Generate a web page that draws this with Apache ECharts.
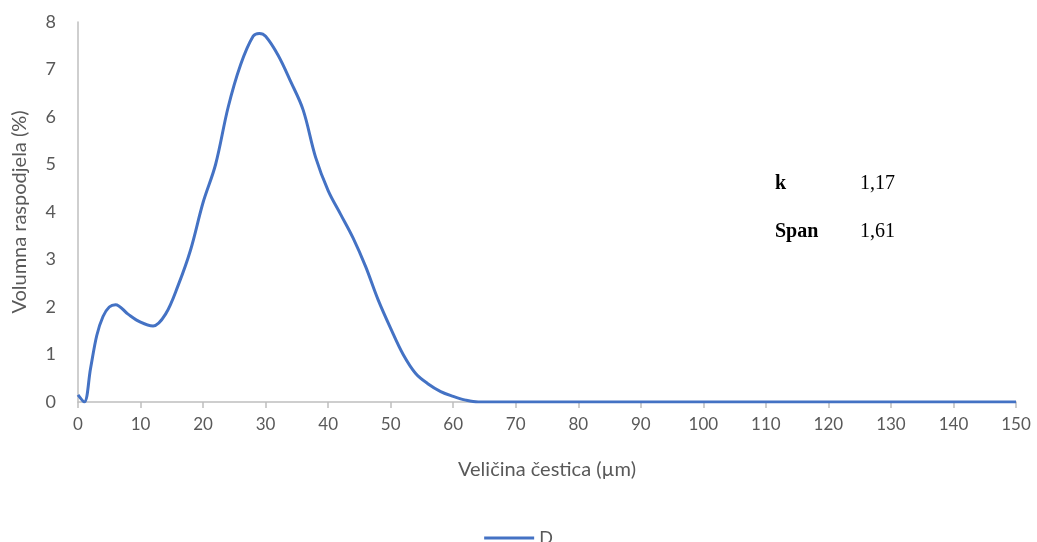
<!DOCTYPE html>
<html>
<head>
<meta charset="utf-8">
<script src="https://cdn.jsdelivr.net/npm/echarts@6/dist/echarts.min.js"></script>
<style>
  html, body { margin: 0; padding: 0; background: #fff; }
  #chart { width: 1037px; height: 542px; }
</style>
</head>
<body>
<div id="chart"></div>
<script>
// particle size (µm) and volume distribution (%)
var sizes = [0, 1, 2, 3, 4, 5, 6, 8, 10, 12, 14, 16, 18, 20, 22, 24, 26, 28, 29, 30, 32, 34, 36, 38, 40, 42, 44, 46, 48, 50, 52, 54, 56, 58, 60, 62, 64, 70, 80, 90, 100, 110, 120, 130, 140, 150];
var volumeD = [0.15, 0, 0.7, 1.4, 1.8, 2.0, 2.05, 1.85, 1.68, 1.6, 1.85, 2.45, 3.2, 4.2, 5.0, 6.2, 7.1, 7.7, 7.76, 7.7, 7.3, 6.75, 6.15, 5.15, 4.45, 3.95, 3.45, 2.85, 2.15, 1.55, 1.0, 0.6, 0.38, 0.22, 0.12, 0.04, 0, 0, 0, 0, 0, 0, 0, 0, 0, 0];
var statNames = ['k', 'Span'];
var statValues = ['1,17', '1,61'];

var myChart = echarts.init(document.getElementById('chart'));

var points = sizes.map(function (x, i) { return [x, volumeD[i]]; });

var font = 'Lato, "Open Sans", sans-serif';

var graphics = [];
statNames.forEach(function (name, i) {
    graphics.push({
        type: 'text', left: 775, top: 174 + i * 48,
        style: { text: name, font: 'bold 20px "Liberation Serif", serif', fill: '#000' }
    });
    graphics.push({
        type: 'text', left: 860, top: 174 + i * 48,
        style: { text: statValues[i], font: '20px "Liberation Serif", serif', fill: '#000' }
    });
});

var option = {
    animation: false,
    grid: { left: 78, right: 21, top: 22, bottom: 140, outerBoundsMode: 'none' },
    legend: {
        bottom: -10,
        left: 'center',
        itemWidth: 50,
        itemHeight: 3,
        textStyle: { fontFamily: font, fontSize: 18, color: '#595959' },
        data: [{ name: 'D', icon: 'rect' }]
    },
    xAxis: {
        type: 'value',
        min: 0,
        max: 150,
        interval: 10,
        name: 'Veličina čestica (µm)',
        nameLocation: 'middle',
        nameGap: 58,
        nameTextStyle: { fontFamily: font, fontSize: 20, color: '#595959' },
        axisLine: { show: true, lineStyle: { color: '#bfbfbf', width: 1.5 } },
        axisTick: { show: true, length: 6, lineStyle: { color: '#bfbfbf', width: 1.5 } },
        axisLabel: { fontFamily: font, fontSize: 17, color: '#595959', margin: 14 },
        splitLine: { show: false }
    },
    yAxis: {
        type: 'value',
        min: 0,
        max: 8,
        interval: 1,
        name: 'Volumna raspodjela (%)',
        nameLocation: 'middle',
        nameGap: 48,
        nameTextStyle: { fontFamily: font, fontSize: 20, color: '#595959' },
        axisLine: { show: true, lineStyle: { color: '#bfbfbf', width: 1.5 } },
        axisTick: { show: false },
        axisLabel: { fontFamily: font, fontSize: 18, color: '#595959', margin: 22 },
        splitLine: { show: false }
    },
    graphic: graphics,
    series: [
        {
            name: 'D',
            type: 'line',
            smooth: 0.35,
            showSymbol: false,
            itemStyle: { color: '#4472c4' },
            lineStyle: { color: '#4472c4', width: 3 },
            data: points
        }
    ]
};

myChart.setOption(option);
</script>
</body>
</html>
